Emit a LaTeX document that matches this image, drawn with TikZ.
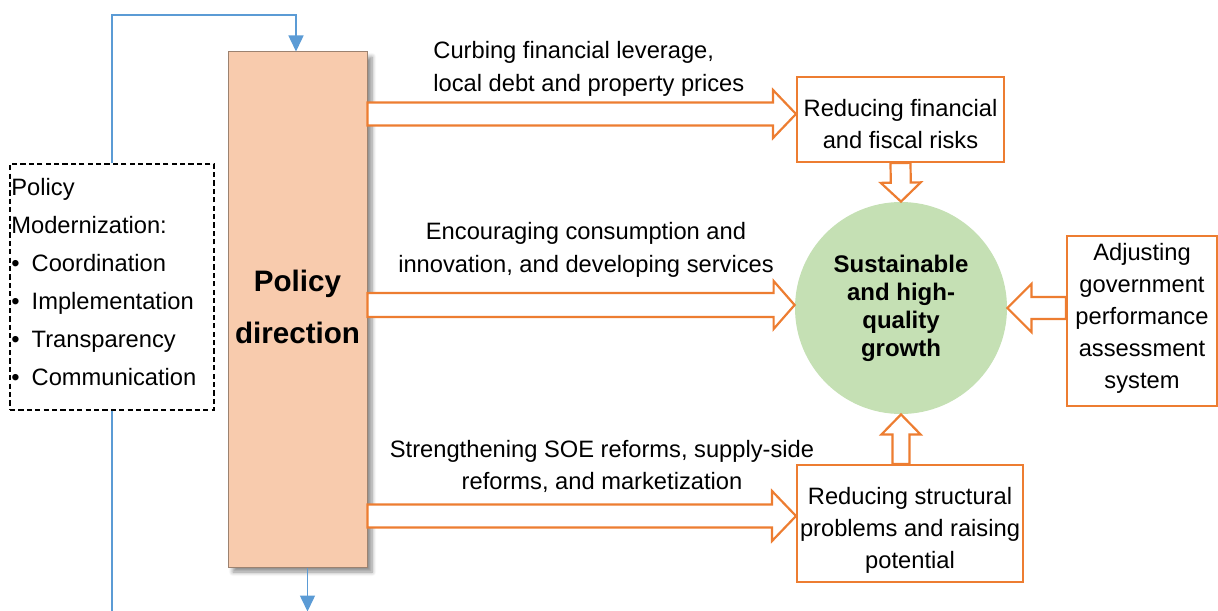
\documentclass[tikz,border=0pt]{standalone}
\usepackage{fontspec}
\setmainfont{Liberation Sans}
\usetikzlibrary{calc,arrows.meta,shadows.blur}
\definecolor{orng}{HTML}{ED7D31}
\definecolor{peach}{HTML}{F8CBAD}
\definecolor{pbord}{HTML}{9C8270}
\definecolor{blu}{HTML}{5B9BD5}
\definecolor{grn}{HTML}{C5E0B4}
\newcommand\blockarrow[5]{%
  \path (#1) coordinate (ba-s) (#2) coordinate (ba-t);
  \path ($(ba-t)!#5!(ba-s)$) coordinate (ba-b);
  \draw[barrow] ($(ba-s)!#3!90:(ba-t)$) -- ($(ba-b)!#3!-90:(ba-s)$) -- ($(ba-b)!#4!-90:(ba-s)$) -- (ba-t) -- ($(ba-b)!#4!90:(ba-s)$) -- ($(ba-b)!#3!90:(ba-s)$) -- ($(ba-s)!#3!-90:(ba-t)$) -- cycle;}
\tikzset{
  every node/.style={font=\fontsize{11.85pt}{16.2pt}\selectfont},
  barrow/.style={draw=orng, fill=white, line width=1.1pt, line join=miter},
  obox/.style={draw=orng, fill=white, line width=1pt, inner sep=0pt},
  btext/.style={align=center, inner sep=0pt, font=\fontsize{11.85pt}{16pt}\selectfont},
  policybox/.style={draw=pbord, fill=peach, line width=0.5pt, minimum width=69.5pt, minimum height=257.5pt,
     blur shadow={shadow xshift=2.5pt, shadow yshift=-2.5pt, shadow blur steps=6, shadow opacity=45}},
  modbox/.style={draw=black, dash pattern=on 2.6pt off 1.6pt, line width=0.7pt, minimum width=102pt, minimum height=123pt},
  blueline/.style={draw=blu, line width=0.75pt},
  bluetip/.style={-{Triangle[width=7.5pt,length=8pt]}},
  label/.style={align=center, inner sep=0pt}
}
\begin{document}
\begin{tikzpicture}[x=0.5pt,y=-0.5pt]
\useasboundingbox (0,0) rectangle (1218,610);

% nodes
\node[policybox] (policy) at (297.5,309.5) {};
\node[align=center, inner sep=0pt, font=\bfseries\fontsize{14.8pt}{26pt}\selectfont] (policytxt) at (297.5,306.5) {Policy\\direction};
\node[modbox] (mod) at (112,287) {};
\node[anchor=west, align=left, inner sep=0pt, font=\fontsize{11.85pt}{19pt}\selectfont] (modtxt) at (11,282)
  {Policy\\Modernization:\\\textbullet\hspace{6pt}Coordination\\\textbullet\hspace{6pt}Implementation\\\textbullet\hspace{6pt}Transparency\\\textbullet\hspace{6pt}Communication};

\node[obox, minimum width=103.5pt, minimum height=42.5pt] (risk) at (900.5,119.5) {};
\node[btext] (risktxt) at (900.5,124.5) {Reducing financial\\and fiscal risks};
\node[obox, minimum width=75pt, minimum height=85pt] (assess) at (1142,321) {};
\node[btext] (assesstxt) at (1142,318) {Adjusting\\government\\performance\\assessment\\system};
\node[obox, minimum width=113pt, minimum height=58.5pt] (struct) at (910,523.5) {};
\node[btext] (structtxt) at (910,530.5) {Reducing structural\\problems and raising\\potential};
\node[circle, fill=grn, minimum size=106pt, inner sep=0pt, align=center,
      font=\bfseries\fontsize{12pt}{14pt}\selectfont] (growth) at (901,308)
  {Sustainable\\and high-\\quality\\growth};

% labels
\node[label, anchor=west, align=left] (l1) at (433,69) {Curbing financial leverage,\\local debt and property prices};
\node[label] (l2) at (586,250) {Encouraging consumption and\\innovation, and developing services};
\node[label] (l3) at (602,466.5) {Strengthening SOE reforms, supply-side\\reforms, and marketization};

% block arrows
\blockarrow{policy.east |- 0,114}{risk.west |- 0,114}{5.75pt}{12pt}{11.5pt}
\blockarrow{policy.east |- 0,305}{growth.west |- 0,305}{6pt}{12pt}{10.5pt}
\blockarrow{policy.east |- 0,516}{struct.west |- 0,516}{5.75pt}{12.5pt}{12pt}
\blockarrow{risk.south}{growth.north}{5pt}{10pt}{9.5pt}
\blockarrow{assess.west |- growth.east}{growth.east}{5.5pt}{12pt}{12pt}
\blockarrow{growth.south |- struct.north}{growth.south}{4.25pt}{9.75pt}{10pt}

% blue connectors
\coordinate (loop) at (mod.north |- 0,15);
\draw[blueline, bluetip] (mod.north) -- (loop) -| ($(policy.north)+(-1.5,0)$);
\coordinate (modend) at (mod.south |- 0,614);
\draw[blueline] (mod.south) -- (modend);
\coordinate (pstart) at ($(policy.south)+(10,0)$);
\coordinate (pend) at ($(policy.south)+(10,44)$);
\draw[blueline, bluetip] (pstart) -- (pend);
\end{tikzpicture}
\end{document}
